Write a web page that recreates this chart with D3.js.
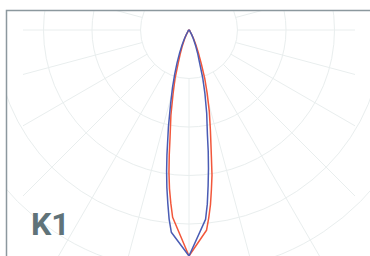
<!DOCTYPE html>
<html lang="en">
<head>
<meta charset="utf-8" />
<title>K1</title>
<script src="https://cdn.jsdelivr.net/npm/d3@7"></script>
<style>
  body { margin: 0; background: #fff; }
</style>
</head>
<body>
<script>
// gamma angles (deg, 0 = straight down) and intensities in cd/klm
const gammas = [0, 5, 6, 7, 8, 9, 10, 12, 14, 16, 18, 20, 22.5, 25, 27.5, 30, 35, 45, 60, 90];
// red curve: C0 (right) / C180 (left)
const c0   = [9320, 8290, 7790, 7260, 6640, 6060, 5320, 4250, 3460, 2720, 2100, 1480, 990, 660, 410, 250, 100, 40, 20, 0];
const c180 = [9320, 7750, 7180, 6600, 5940, 5200, 4500, 3590, 2720, 2100, 1440, 1070, 740, 490, 330, 210, 80, 40, 20, 0];
// blue curve: C90 (right) / C270 (left)
const c90  = [9320, 7840, 7220, 6470, 5770, 5070, 4370, 3510, 2720, 2060, 1400, 1070, 740, 490, 330, 210, 80, 40, 20, 0];
const c270 = [9320, 8370, 7840, 7180, 6560, 5900, 5240, 4080, 3130, 2470, 1900, 1440, 990, 660, 410, 250, 100, 40, 20, 0];

const rings = [2000, 4000, 6000, 8000, 10000, 12000];
const spokeAngles = d3.range(0, 360, 15);
const label = "K1";

const width = 370, height = 256;
const cx = 189, cy = 30;

const r = d3.scaleLinear().domain([0, 2000]).range([0, 48.5]);

const svg = d3.select("body").append("svg")
    .attr("width", width)
    .attr("height", height);

const defs = svg.append("defs");
defs.append("clipPath").attr("id", "box")
  .append("rect").attr("x", 7).attr("y", 11).attr("width", 364).attr("height", 260);
defs.append("clipPath").attr("id", "spokes")
  .append("rect").attr("x", 23).attr("y", 11).attr("width", 332).attr("height", 260);

// rings
svg.append("g")
    .attr("clip-path", "url(#box)")
  .append("g")
    .attr("transform", `translate(${cx},${cy})`)
    .attr("fill", "none")
    .attr("stroke", "#e9eeee")
  .selectAll("circle")
  .data(rings)
  .join("circle")
    .attr("r", d => r(d));

// spokes
const rad = d3.scaleLinear().domain([0, 360]).range([0, 2 * Math.PI]);
svg.append("g")
    .attr("clip-path", "url(#spokes)")
  .append("g")
    .attr("transform", `translate(${cx},${cy})`)
    .attr("stroke", "#e9eeee")
  .selectAll("line")
  .data(spokeAngles)
  .join("line")
    .attr("x1", d => Math.sin(rad(d)) * r(rings[0]))
    .attr("y1", d => Math.cos(rad(d)) * r(rings[0]))
    .attr("x2", d => Math.sin(rad(d)) * r(rings[rings.length - 1] + 4000))
    .attr("y2", d => Math.cos(rad(d)) * r(rings[rings.length - 1] + 4000));

// box
svg.append("rect")
    .attr("x", 6.5)
    .attr("y", 10.5)
    .attr("width", 365)
    .attr("height", 260)
    .attr("fill", "none")
    .attr("stroke", "#8c989e")
    .attr("stroke-width", 1.5);

// photometric curves
function curvePoints(left, right) {
  const pts = [];
  for (let i = gammas.length - 1; i >= 0; i--) pts.push([Math.PI + rad(gammas[i]), r(left[i])]);
  for (let i = 0; i < gammas.length; i++) pts.push([Math.PI - rad(gammas[i]), r(right[i])]);
  return pts;
}

const line = d3.lineRadial()
    .angle(d => d[0])
    .radius(d => d[1]);

const curves = svg.append("g")
    .attr("clip-path", "url(#box)")
  .append("g")
    .attr("transform", `translate(${cx},${cy})`)
    .attr("fill", "none")
    .attr("stroke-width", 1.5)
    .attr("stroke-linejoin", "round");

curves.append("path")
    .attr("d", line(curvePoints(c180, c0)))
    .attr("stroke", "#f2573b");

curves.append("path")
    .attr("d", line(curvePoints(c270, c90)))
    .attr("stroke", "#4a5cb4");

svg.append("text")
    .attr("x", 31)
    .attr("y", 235)
    .attr("font-family", "Roboto, sans-serif")
    .attr("font-weight", "bold")
    .attr("font-size", 32)
    .attr("fill", "#607379")
    .text(label);
</script>
</body>
</html>
